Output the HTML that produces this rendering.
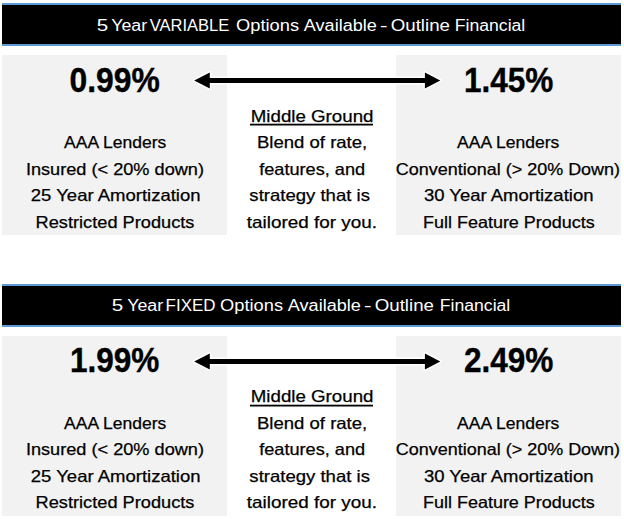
<!DOCTYPE html>
<html><head><meta charset="utf-8"><style>
html,body{margin:0;padding:0;background:#fff;width:624px;height:519px;overflow:hidden;position:relative}
body{font-family:"Liberation Sans",sans-serif;color:#000}
.hd{position:absolute;left:2px;width:619px;height:39px;background:#000;border-top:2px solid #5b9bd5;border-bottom:2px solid #5b9bd5}
.g{position:absolute;background:#f2f2f2}
.ul{position:absolute;background:#000}
.ar{position:absolute;left:0}
.ln{position:absolute;height:0;line-height:0;text-align:center;white-space:pre}
.ln span{display:inline-block;transform-origin:50% 50%}
.hdr{font-size:16.0px;color:#fff}
.big{font-size:35.0px;font-weight:bold;-webkit-text-stroke:0.4px #000}
.body{font-size:16.5px;-webkit-text-stroke:0.25px #000}
</style></head><body>

<div class="hd" style="top:3px"></div>
<div class="g" style="left:2px;top:55px;width:225px;height:180px"></div>
<div class="g" style="left:396px;top:55px;width:225px;height:180px"></div>
<svg class="ar" style="top:0px" width="624" height="130" viewBox="0 0 624 130"><rect x="250" y="123.7" width="123" height="1.8" fill="#000"/></svg>
<svg class="ar" style="top:0px" width="624" height="100" viewBox="0 0 624 100"><path d="M194.2,80.4 L209.8,72.4 L209.8,77.9 L424.9,77.9 L424.9,72.4 L440.3,80.4 L424.9,88.4 L424.9,82.9 L209.8,82.9 L209.8,88.4 Z" fill="#000" stroke="#fff" stroke-width="3.0" paint-order="stroke" stroke-linejoin="round"/></svg>
<div class="hd" style="top:284px"></div>
<div class="g" style="left:2px;top:336px;width:225px;height:180px"></div>
<div class="g" style="left:396px;top:336px;width:225px;height:180px"></div>
<svg class="ar" style="top:281px" width="624" height="130" viewBox="0 0 624 130"><rect x="250" y="123.7" width="123" height="1.8" fill="#000"/></svg>
<svg class="ar" style="top:281px" width="624" height="100" viewBox="0 0 624 100"><path d="M194.2,80.4 L209.8,72.4 L209.8,77.9 L424.9,77.9 L424.9,72.4 L440.3,80.4 L424.9,88.4 L424.9,82.9 L209.8,82.9 L209.8,88.4 Z" fill="#000" stroke="#fff" stroke-width="3.0" paint-order="stroke" stroke-linejoin="round"/></svg>
<div class="ln hdr" style="left:42.10px;width:120px;top:26.46px;"><span style="transform:scaleX(1.2871)">5</span></div>
<div class="ln hdr" style="left:69.60px;width:120px;top:26.46px;"><span style="transform:scaleX(1.1146)">Year</span></div>
<div class="ln hdr" style="left:130.00px;width:120px;top:26.46px;"><span style="transform:scaleX(1.0318)">VARIABLE</span></div>
<div class="ln hdr" style="left:207.20px;width:120px;top:26.46px;"><span style="transform:scaleX(1.1409)">Options</span></div>
<div class="ln hdr" style="left:279.90px;width:120px;top:26.46px;"><span style="transform:scaleX(1.1285)">Available</span></div>
<div class="ln hdr" style="left:323.20px;width:120px;top:26.46px;"><span style="transform:scaleX(1.4077)">-</span></div>
<div class="ln hdr" style="left:360.30px;width:120px;top:26.46px;"><span style="transform:scaleX(1.1681)">Outline</span></div>
<div class="ln hdr" style="left:430.30px;width:120px;top:26.46px;"><span style="transform:scaleX(1.1001)">Financial</span></div>
<div class="ln big" style="left:2.00px;width:225px;top:80.07px;"><span style="transform:scaleX(0.9096)">0.99%</span></div>
<div class="ln big" style="left:396.00px;width:225px;top:80.07px;"><span style="transform:scaleX(0.9000)">1.45%</span></div>
<div class="ln body" style="left:2.70px;width:225px;top:142.48px;"><span style="transform:scaleX(1.0605)">AAA Lenders</span></div>
<div class="ln body" style="left:2.20px;width:225px;top:169.28px;"><span style="transform:scaleX(1.1000)">Insured (&lt; 20% down)</span></div>
<div class="ln body" style="left:2.90px;width:225px;top:195.08px;"><span style="transform:scaleX(1.1214)">25 Year Amortization</span></div>
<div class="ln body" style="left:2.30px;width:225px;top:222.08px;"><span style="transform:scaleX(1.1029)">Restricted Products</span></div>
<div class="ln body" style="left:227.50px;width:169px;top:116.28px;"><span style="transform:scaleX(1.1340)">Middle Ground</span></div>
<div class="ln body" style="left:227.50px;width:169px;top:142.48px;"><span style="transform:scaleX(1.1244)">Blend of rate,</span></div>
<div class="ln body" style="left:227.40px;width:169px;top:169.28px;"><span style="transform:scaleX(1.1001)">features, and</span></div>
<div class="ln body" style="left:225.00px;width:169px;top:195.08px;"><span style="transform:scaleX(1.1236)">strategy that is</span></div>
<div class="ln body" style="left:227.50px;width:169px;top:222.08px;"><span style="transform:scaleX(1.1447)">tailored for you.</span></div>
<div class="ln body" style="left:396.00px;width:225px;top:142.48px;"><span style="transform:scaleX(1.0625)">AAA Lenders</span></div>
<div class="ln body" style="left:395.50px;width:225px;top:169.28px;"><span style="transform:scaleX(1.0888)">Conventional (&gt; 20% Down)</span></div>
<div class="ln body" style="left:396.00px;width:225px;top:195.08px;"><span style="transform:scaleX(1.1200)">30 Year Amortization</span></div>
<div class="ln body" style="left:395.90px;width:225px;top:222.08px;"><span style="transform:scaleX(1.0885)">Full Feature Products</span></div>
<div class="ln hdr" style="left:57.90px;width:120px;top:306.46px;"><span style="transform:scaleX(1.2871)">5</span></div>
<div class="ln hdr" style="left:85.40px;width:120px;top:306.46px;"><span style="transform:scaleX(1.1146)">Year</span></div>
<div class="ln hdr" style="left:130.30px;width:120px;top:306.46px;"><span style="transform:scaleX(1.0588)">FIXED</span></div>
<div class="ln hdr" style="left:191.60px;width:120px;top:306.46px;"><span style="transform:scaleX(1.1409)">Options</span></div>
<div class="ln hdr" style="left:264.30px;width:120px;top:306.46px;"><span style="transform:scaleX(1.1285)">Available</span></div>
<div class="ln hdr" style="left:307.60px;width:120px;top:306.46px;"><span style="transform:scaleX(1.4077)">-</span></div>
<div class="ln hdr" style="left:344.70px;width:120px;top:306.46px;"><span style="transform:scaleX(1.1681)">Outline</span></div>
<div class="ln hdr" style="left:414.70px;width:120px;top:306.46px;"><span style="transform:scaleX(1.1001)">Financial</span></div>
<div class="ln big" style="left:1.80px;width:225px;top:360.07px;"><span style="transform:scaleX(0.9000)">1.99%</span></div>
<div class="ln big" style="left:396.20px;width:225px;top:360.07px;"><span style="transform:scaleX(0.9010)">2.49%</span></div>
<div class="ln body" style="left:2.70px;width:225px;top:423.28px;"><span style="transform:scaleX(1.0605)">AAA Lenders</span></div>
<div class="ln body" style="left:2.20px;width:225px;top:449.48px;"><span style="transform:scaleX(1.1000)">Insured (&lt; 20% down)</span></div>
<div class="ln body" style="left:2.90px;width:225px;top:476.08px;"><span style="transform:scaleX(1.1214)">25 Year Amortization</span></div>
<div class="ln body" style="left:2.30px;width:225px;top:502.08px;"><span style="transform:scaleX(1.1029)">Restricted Products</span></div>
<div class="ln body" style="left:227.50px;width:169px;top:396.48px;"><span style="transform:scaleX(1.1340)">Middle Ground</span></div>
<div class="ln body" style="left:227.50px;width:169px;top:423.28px;"><span style="transform:scaleX(1.1244)">Blend of rate,</span></div>
<div class="ln body" style="left:227.40px;width:169px;top:449.48px;"><span style="transform:scaleX(1.1001)">features, and</span></div>
<div class="ln body" style="left:225.00px;width:169px;top:476.08px;"><span style="transform:scaleX(1.1236)">strategy that is</span></div>
<div class="ln body" style="left:227.50px;width:169px;top:502.08px;"><span style="transform:scaleX(1.1447)">tailored for you.</span></div>
<div class="ln body" style="left:396.00px;width:225px;top:423.28px;"><span style="transform:scaleX(1.0625)">AAA Lenders</span></div>
<div class="ln body" style="left:395.50px;width:225px;top:449.48px;"><span style="transform:scaleX(1.0888)">Conventional (&gt; 20% Down)</span></div>
<div class="ln body" style="left:396.00px;width:225px;top:476.08px;"><span style="transform:scaleX(1.1200)">30 Year Amortization</span></div>
<div class="ln body" style="left:395.90px;width:225px;top:502.08px;"><span style="transform:scaleX(1.0885)">Full Feature Products</span></div>
</body></html>
